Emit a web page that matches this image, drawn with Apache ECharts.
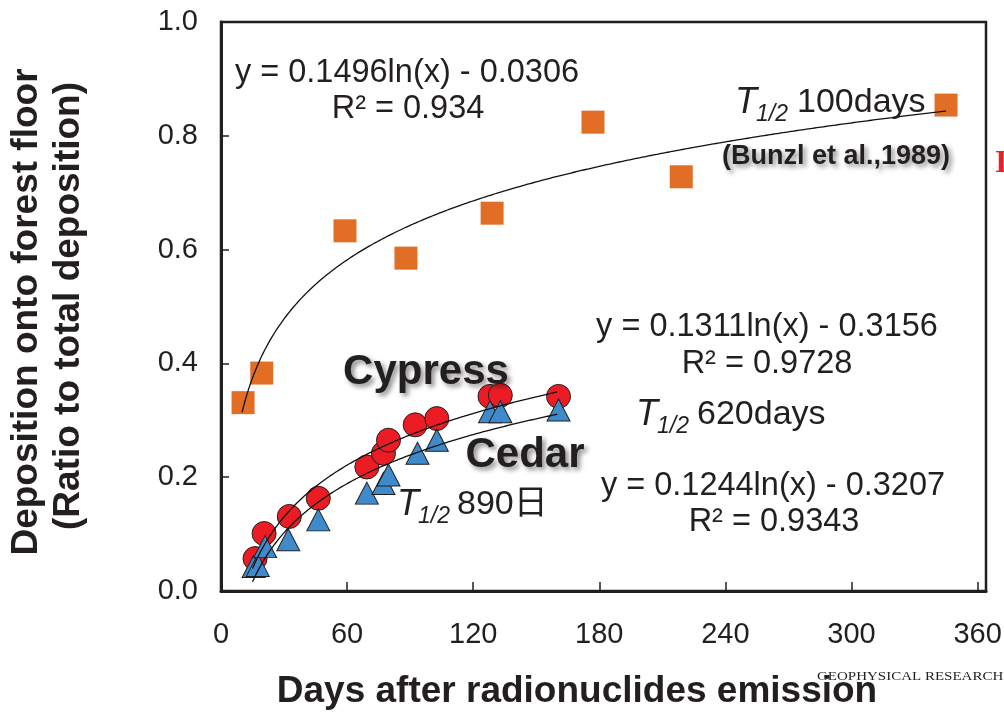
<!DOCTYPE html>
<html>
<head>
<meta charset="utf-8">
<script src="https://cdn.jsdelivr.net/npm/echarts@6/dist/echarts.min.js"></script>
<style>
  html, body { margin: 0; padding: 0; background: #ffffff; }
  #chart { width: 1004px; height: 713px; }
</style>
</head>
<body>
<div id="chart"></div>
<script>
// Tick values
const xTicks = [0, 60, 120, 180, 240, 300, 360];
const yTicks = [0, 0.2, 0.4, 0.6, 0.8, 1.0];

// Bunzl et al. (1989) – deposition ratio vs. days
const bunzlDays  = [10.5, 19.4, 59, 88, 129, 177, 219, 345];
const bunzlRatio = [0.331, 0.383, 0.633, 0.585, 0.664, 0.824, 0.728, 0.854];

// Cypress stand
const cypressDays  = [16.2, 20.5, 32.5, 46.3, 69.4, 77.3, 79.7, 92.4, 102.7, 128, 132.9, 160.6];
const cypressRatio = [0.057, 0.101, 0.131, 0.163, 0.218, 0.242, 0.265, 0.292, 0.303, 0.342, 0.344, 0.342];

// Cedar stand
const cedarDays  = [15.5, 17.5, 21, 32, 46.3, 69.4, 77.3, 79.7, 93.5, 102.7, 128, 132.9, 160.6];
const cedarRatio = [0.043, 0.045, 0.078, 0.090, 0.125, 0.172, 0.189, 0.204, 0.242, 0.265, 0.315, 0.315, 0.318];

// Logarithmic fits y = a ln(x) + b  (Bunzl, Cypress, Cedar)
const fitNames  = ['Bunzl fit', 'Cypress fit', 'Cedar fit'];
const fitSlope  = [0.1496, 0.1311, 0.1244];
const fitOffset = [-0.0306, -0.3156, -0.3207];
const fitFrom   = [10, 15, 15];
const fitTo     = [345, 160, 160];

const INK = '#231f20';
const SANS = '"Liberation Sans", Arial, "Noto Sans CJK JP", sans-serif';

function zip(xs, ys) { return xs.map((x, i) => [x, ys[i]]); }

function fitCurve(k) {
  const pts = [];
  for (let x = fitFrom[k]; x <= fitTo[k] + 1e-9; x += 0.5) {
    pts.push([x, fitSlope[k] * Math.log(x) + fitOffset[k]]);
  }
  return pts;
}

function txt(x, y, text, size, opts) {
  opts = opts || {};
  return {
    type: 'text', x: x, y: y, z: 100, silent: true,
    rotation: opts.rotation || 0,
    scaleY: opts.scaleY || 1,
    style: {
      text: text,
      fill: INK,
      fontFamily: opts.family || SANS,
      fontSize: size,
      fontWeight: opts.weight || 'normal',
      fontStyle: opts.style || 'normal',
      align: opts.align || 'center',
      verticalAlign: 'middle',
      textShadowColor: opts.shadow ? 'rgba(0,0,0,0.45)' : 'transparent',
      textShadowBlur: opts.shadow ? 5 : 0,
      textShadowOffsetX: opts.shadow ? 3 : 0,
      textShadowOffsetY: opts.shadow ? 3 : 0
    }
  };
}

// "T1/2 ..." half-life label: italic T, italic subscript, then value
function halfLife(xT, xSub, xVal, cy, value) {
  return [
    txt(xT, cy, 'T', 36, { align: 'left', style: 'italic' }),
    txt(xSub, cy + 12, '1/2', 23, { align: 'left', style: 'italic' }),
    txt(xVal, cy, value, 34, { align: 'left' })
  ];
}

const chart = echarts.init(document.getElementById('chart'), null, { renderer: 'canvas' });

const lineSeries = fitNames.map((name, k) => ({
  name: name,
  type: 'line',
  data: fitCurve(k),
  showSymbol: false,
  symbol: 'none',
  silent: true,
  z: 10,
  lineStyle: { color: '#111111', width: 1.3 }
}));

chart.setOption({
  animation: false,
  backgroundColor: '#ffffff',
  grid: {
    left: 221, right: 18, top: 22, bottom: 122,
    show: true, borderColor: INK, borderWidth: 2.5,
    containLabel: false, outerBoundsMode: 'none'
  },
  xAxis: {
    type: 'value', min: 0, max: 364,
    axisLine: { show: true, lineStyle: { color: INK, width: 3 } },
    axisTick: { show: true, inside: true, length: 9, customValues: xTicks, lineStyle: { color: INK, width: 1.5 } },
    axisLabel: { customValues: xTicks, color: INK, fontSize: 29, fontFamily: SANS, margin: 29 },
    splitLine: { show: false }
  },
  yAxis: {
    type: 'value', min: 0, max: 1, interval: 0.2,
    axisLine: { show: true, lineStyle: { color: INK, width: 3 } },
    axisTick: { show: true, inside: true, length: 8, lineStyle: { color: INK, width: 1.5 } },
    axisLabel: { color: INK, fontSize: 29, fontFamily: SANS, margin: 23,
      formatter: v => v.toFixed(1) },
    splitLine: { show: false }
  },
  series: [
    {
      name: 'Bunzl et al., 1989', type: 'scatter', z: 2,
      data: zip(bunzlDays, bunzlRatio),
      symbol: 'rect', symbolSize: 23,
      itemStyle: { color: '#e26e26', opacity: 1 }
    },
    {
      name: 'Cypress', type: 'scatter', z: 3,
      data: zip(cypressDays, cypressRatio),
      symbol: 'circle', symbolSize: 24,
      itemStyle: { color: '#ec1c24', borderColor: INK, borderWidth: 1, opacity: 1 }
    },
    {
      name: 'Cedar', type: 'scatter', z: 4,
      data: zip(cedarDays, cedarRatio),
      symbol: 'triangle', symbolSize: [23, 22],
      itemStyle: { color: '#3f8acb', borderColor: INK, borderWidth: 1, opacity: 1 }
    }
  ].concat(lineSeries),
  graphic: [
    // fit equations
    txt(407, 73, 'y = 0.1496ln(x) - 0.0306', 32.5),
    txt(408, 109, 'R² = 0.934', 32.5),
    txt(767, 327, 'y = 0.1311ln(x) - 0.3156', 32.5),
    txt(767, 364, 'R² = 0.9728', 32.5),
    txt(773, 486, 'y = 0.1244ln(x) - 0.3207', 32.5),
    txt(774, 522, 'R² = 0.9343', 32.5),
    // half-lives
    ...halfLife(735, 756, 797, 103, '100days'),
    ...halfLife(636, 657, 697, 415, '620days'),
    ...halfLife(397, 418, 457, 505, '890日'),
    // stand / source labels
    txt(426, 372, 'Cypress', 42, { weight: 'bold', shadow: true }),
    txt(525, 455, 'Cedar', 42, { weight: 'bold', shadow: true }),
    txt(836, 157, '(Bunzl et al.,1989)', 27, { weight: 'bold', shadow: true }),
    // axis titles
    txt(27, 312, 'Deposition onto forest floor', 37, { weight: 'bold', rotation: Math.PI / 2 }),
    txt(69, 306, '(Ratio to total deposition)', 37, { weight: 'bold', rotation: Math.PI / 2 }),
    txt(577, 692, 'Days after radionuclides emission', 37, { weight: 'bold' }),
    // source credit and neighbouring text at the edge
    txt(817, 677, 'GEOPHYSICAL RESEARCH', 15, { align: 'left', scaleY: 0.85,
      family: '"Liberation Serif", "Times New Roman", serif' }),
    {
      type: 'text', x: 995, y: 164, z: 100, silent: true,
      style: { text: 'I', fill: '#e8202a', fontFamily: '"Liberation Serif", serif',
        fontWeight: 'bold', fontSize: 32, align: 'left', verticalAlign: 'middle' }
    }
  ]
});
</script>
</body>
</html>
